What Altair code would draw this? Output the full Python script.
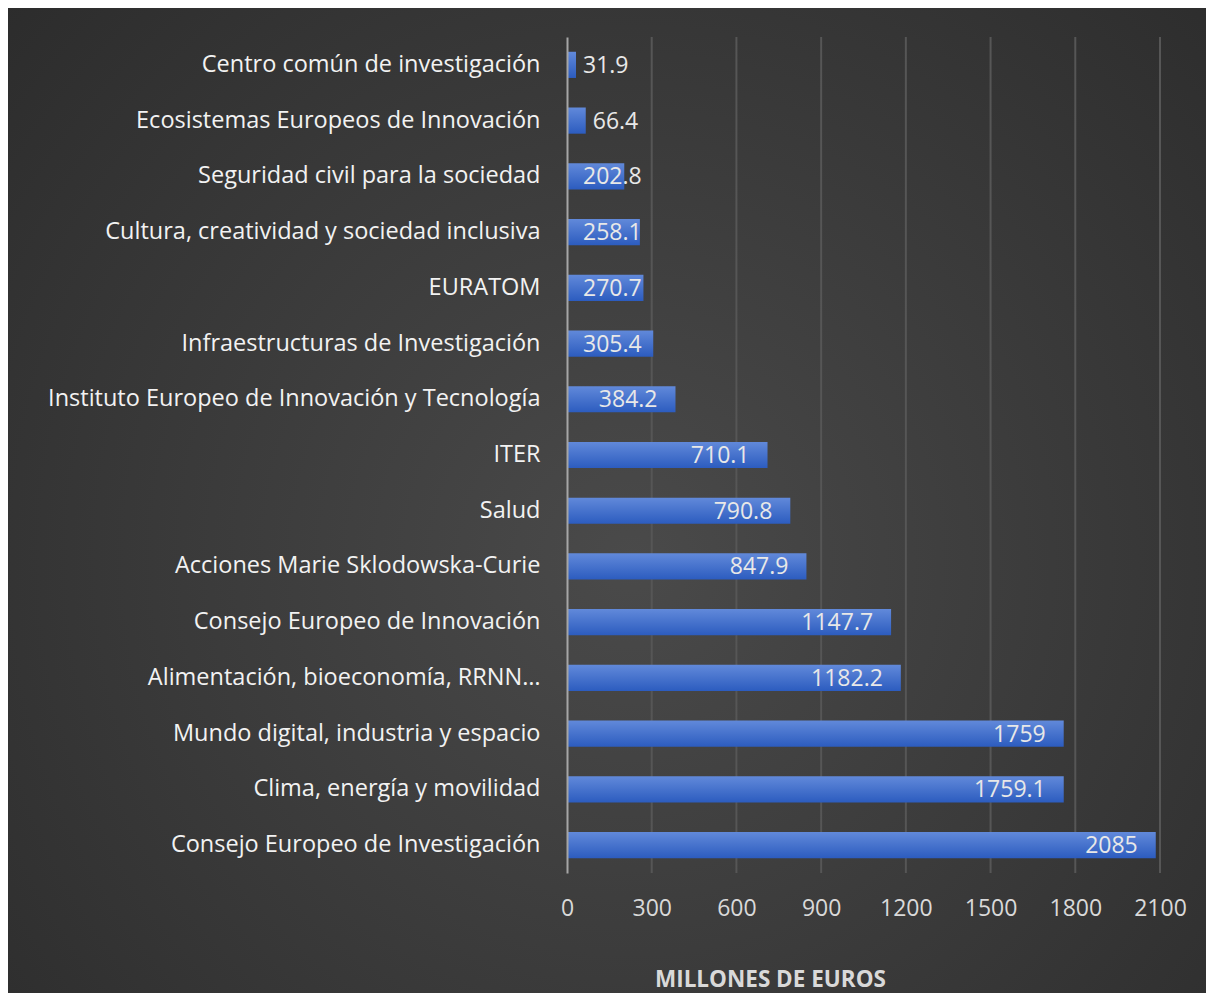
import altair as alt
import pandas as pd

categories = [
    "Centro común de investigación",
    "Ecosistemas Europeos de Innovación",
    "Seguridad civil para la sociedad",
    "Cultura, creatividad y sociedad inclusiva",
    "EURATOM ",
    "Infraestructuras de Investigación",
    "Instituto Europeo de Innovación y Tecnología",
    "ITER",
    "Salud",
    "Acciones Marie Sklodowska-Curie",
    "Consejo Europeo de Innovación",
    "Alimentación, bioeconomía, RRNN…",
    "Mundo digital, industria y espacio",
    "Clima, energía y movilidad",
    "Consejo Europeo de Investigación",
]
values = [31.9, 66.4, 202.8, 258.1, 270.7, 305.4, 384.2, 710.1, 790.8, 847.9,
          1147.7, 1182.2, 1759, 1759.1, 2085]
labels = ["31.9", "66.4", "202.8", "258.1", "270.7", "305.4", "384.2", "710.1",
          "790.8", "847.9", "1147.7", "1182.2", "1759", "1759.1", "2085"]
x_ticks = [0, 300, 600, 900, 1200, 1500, 1800, 2100]

df = pd.DataFrame({"cat": categories, "val": values, "lab": labels})
df_ticks = pd.DataFrame({"t": x_ticks[1:]})

FONT = "Open Sans"
W, H = 593, 836

x_scale = alt.Scale(domain=[0, 2100], nice=False)
y_sort = alt.Y("cat:N", sort=categories)

bg = alt.Chart(pd.DataFrame({"a": [0]})).mark_rect(
    color=alt.RadialGradient(
        gradient="radial", x1=0.52, y1=0.55, x2=0.52, y2=0.55, r1=0, r2=0.75,
        stops=[alt.GradientStop(offset=0, color="#4a4a4a"),
               alt.GradientStop(offset=1, color="#2a2a2a")]),
).encode(x=alt.value(-559), x2=alt.value(W + 46),
         y=alt.value(-29), y2=alt.value(H + 120))

grid = alt.Chart(df_ticks).mark_rule(color="#565656", strokeWidth=2).encode(
    x=alt.X("t:Q", scale=x_scale), y=alt.value(0), y2=alt.value(H))

bars = alt.Chart(df).mark_bar(
    color=alt.LinearGradient(
        gradient="linear", x1=0, y1=0, x2=0, y2=1,
        stops=[alt.GradientStop(offset=0, color="#6189da"),
               alt.GradientStop(offset=1, color="#2c5cbf")]),
).encode(
    x=alt.X("val:Q", scale=x_scale,
            axis=alt.Axis(values=x_ticks, title="MILLONES DE EUROS", zindex=1,
                          format="d", labelFlush=False, labelOverlap=False,
                          titleFontSize=22.5, titleFont=FONT, titleFontWeight="bold",
                          titleColor="#d9d9d9", titlePadding=48, titleX=203,
                          titleAlign="center", grid=False,
                          labelFontSize=23, labelFont=FONT, labelColor="#d9d9d9",
                          labelPadding=24, ticks=False, domain=False)),
    y=alt.Y("cat:N", sort=categories,
            scale=alt.Scale(paddingInner=0.53, paddingOuter=0.265),
            axis=alt.Axis(title=None, labelFontSize=23.5, labelColor="#f2f2f2",
                          labelFont=FONT, labelPadding=27, ticks=False, zindex=1,
                          domainColor="#a6a6a6", domainWidth=2, grid=False,
                          labelLimit=600)),
)

txt_kw = dict(baseline="middle", dy=1, fontSize=23, font=FONT, color="#e8e8e8")

txt_in = alt.Chart(df).transform_filter("datum.val > 350").mark_text(
    align="right", dx=-18, **txt_kw
).encode(x=alt.X("val:Q", scale=x_scale), y=y_sort, text="lab:N")

txt_mid = alt.Chart(df).transform_filter("datum.val > 100 && datum.val <= 350").mark_text(
    align="left", dx=16, **txt_kw
).encode(x=alt.value(0), y=y_sort, text="lab:N")

txt_out = alt.Chart(df).transform_filter("datum.val <= 100").mark_text(
    align="left", dx=7, **txt_kw
).encode(x=alt.X("val:Q", scale=x_scale), y=y_sort, text="lab:N")

chart = alt.layer(bg, grid, bars, txt_in, txt_mid, txt_out).properties(
    width=W, height=H,
    autosize=alt.AutoSizeParams(type="none"),
    padding={"left": 559, "top": 29, "right": 46, "bottom": 120},
    background="#333333",
).configure_view(stroke=None)

chart.save("out.html", embed_options={"renderer": "svg", "actions": False})
